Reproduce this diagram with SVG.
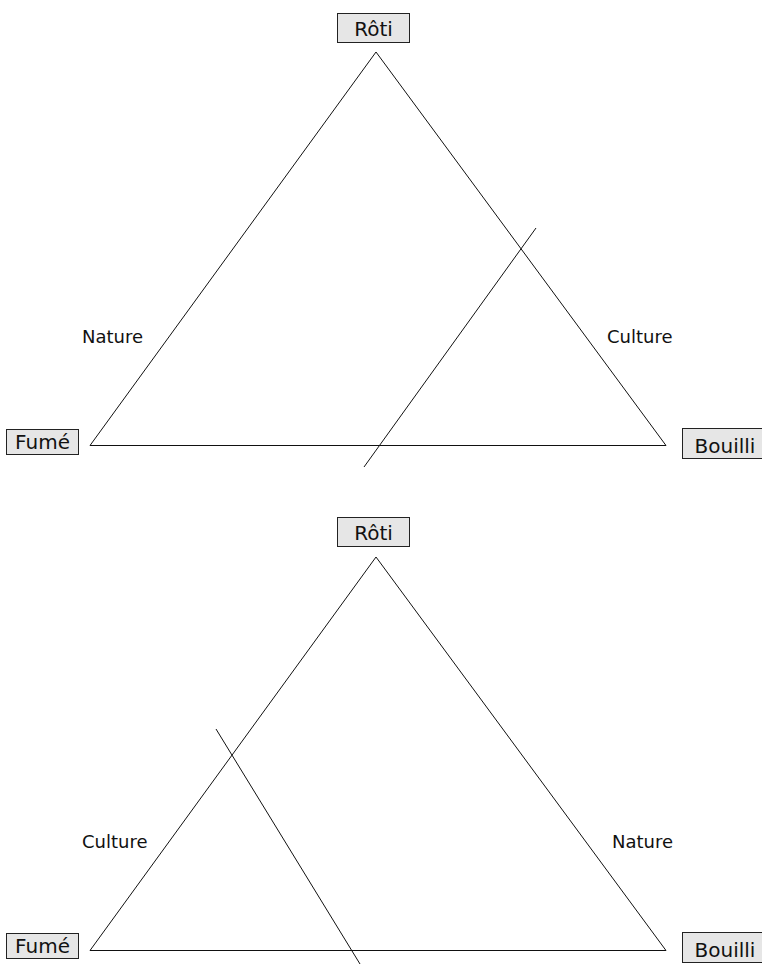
<svg xmlns="http://www.w3.org/2000/svg" width="762" height="964" viewBox="0 0 762 964">
<style>
.box{fill:#e6e6e6;stroke:#222;stroke-width:1}
.bl{font-family:"DejaVu Sans",sans-serif;font-size:20px;fill:#111;text-anchor:middle}
.lbl{font-family:"DejaVu Sans",sans-serif;font-size:18px;fill:#111}
.ln{fill:none;stroke:#111;stroke-width:1}
</style>
<rect width="762" height="964" fill="#fff"/>
<g id="top">
  <g id="connectors-top">
    <polygon class="ln" points="376,52 666,445.5 90,445.5"/>
    <line class="ln" x1="536" y1="228" x2="364" y2="467"/>
  </g>
  <g id="roti-top"><rect class="box" x="337.5" y="13.5" width="72" height="29"/><text class="bl" x="373.5" y="36">Rôti</text></g>
  <g id="fume-top"><rect class="box" x="6.5" y="429.5" width="72" height="25"/><text class="bl" x="42.5" y="449">Fumé</text></g>
  <g id="bouilli-top"><rect class="box" x="682.5" y="428.5" width="82" height="30"/><text class="bl" x="725" y="453">Bouilli</text></g>
  <g id="nature-top"><text class="lbl" x="82" y="343">Nature</text></g>
  <g id="culture-top"><text class="lbl" x="607" y="343">Culture</text></g>
</g>
<g id="bottom">
  <g id="connectors-bottom">
    <polygon class="ln" points="376,557 666,950.5 90,950.5"/>
    <line class="ln" x1="216" y1="729" x2="360" y2="964"/>
  </g>
  <g id="roti-bottom"><rect class="box" x="337.5" y="517.5" width="72" height="29"/><text class="bl" x="373.5" y="540">Rôti</text></g>
  <g id="fume-bottom"><rect class="box" x="6.5" y="933.5" width="72" height="25"/><text class="bl" x="42.5" y="953">Fumé</text></g>
  <g id="bouilli-bottom"><rect class="box" x="682.5" y="932.5" width="82" height="30"/><text class="bl" x="725" y="957">Bouilli</text></g>
  <g id="culture-bottom"><text class="lbl" x="82" y="848">Culture</text></g>
  <g id="nature-bottom"><text class="lbl" x="612" y="848">Nature</text></g>
</g>
</svg>
